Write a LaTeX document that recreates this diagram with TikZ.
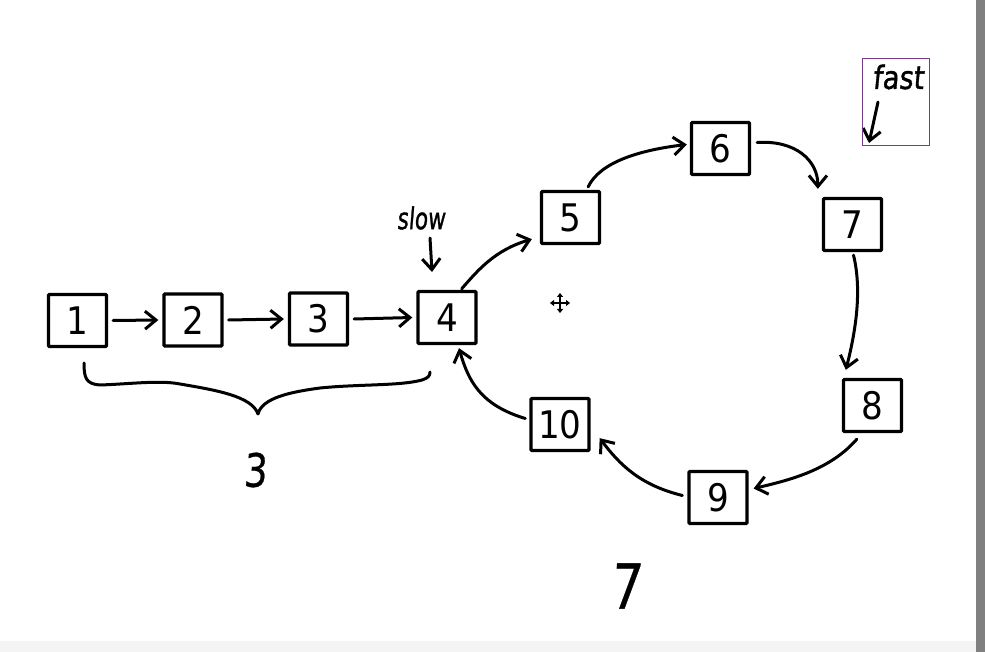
\documentclass[tikz,border=0pt]{standalone}
\usepackage{fontspec}
\usetikzlibrary{arrows.meta,calc}
\newfontfamily\numfont{DejaVu Sans Condensed}
\newfontfamily\handfont[FakeBold=1.2,FakeSlant=0.12]{DejaVu Sans}
\newfontfamily\handdigits[FakeBold=0.6,FakeSlant=0.08]{DejaVu Sans}
\definecolor{framepurple}{RGB}{122,58,138}
\definecolor{barsgray}{RGB}{128,128,128}
\definecolor{stripgray}{RGB}{244,244,244}
\begin{document}
\begin{tikzpicture}[x=1pt,y=-1pt,
  box/.style={draw,line width=3.3pt,rounded corners=1pt,minimum width=58pt,minimum height=52pt,inner sep=0pt,font=\numfont\fontsize{38}{40}\selectfont},
  hand/.style={line width=3pt,line cap=round,line join=round},
  harr/.style={hand,-{Straight Barb[length=11pt,width=18pt,line width=3pt]}},
  handtext/.style={inner sep=0pt,font=\handfont\fontsize{#1}{#1}\selectfont},
  handnum/.style={inner sep=0pt,font=\handdigits\fontsize{#1}{#1}\selectfont}
]
\useasboundingbox[fill=white] (0,0) rectangle (985,652);
\fill[stripgray] (0,641) rectangle (976,652);
\fill[barsgray] (976,0) rectangle (985,652);

% boxes
\node[box] (n1) at (77.5,320.5) {1};
\node[box] (n2) at (193,320) {2};
\node[box] (n3) at (318.5,319) {3};
\node[box] (n4) at (447,317.5) {4};
\node[box] (n5) at (570.5,217.5) {5};
\node[box] (n6) at (720.5,148.5) {6};
\node[box] (n7) at (852.5,224.5) {7};
\node[box] (n8) at (872.5,405.5) {8};
\node[box] (n9) at (718,497.5) {9};
\node[box] (n10) at (560,424.5) {10};

% straight arrows
\draw[harr] ([xshift=5pt]n1.east) -- ([xshift=-4pt]n2.west);
\draw[harr] ([xshift=5pt]n2.east) -- ([xshift=-4pt]n3.west);
\draw[harr] ([xshift=5pt]n3.east) -- ([xshift=-4pt]n4.west);

% ring arrows
\draw[harr] ($(n4.north east)+(-16,-1)$) .. controls (478,270) and (495,250) .. ($(n5.south west)+(-8,-6)$);
\draw[harr] ($(n5.north east)+(-13,-3)$) .. controls (600,162) and (640,150) .. ($(n6.west)+(-3,-4)$);
\draw[harr] ($(n6.east)+(6,-6)$) .. controls (795,140) and (818,160) .. ($(n7.north west)+(-4,-8)$);
\draw[harr] ($(n7.south)+(1,3)$) .. controls (862,290) and (856,330) .. ($(n8.north west)+(4,-8)$);
\draw[harr] ($(n8.south west)+(15,6)$) .. controls (830,470) and (790,480) .. ($(n9.east)+(5,-9)$);
\draw[harr] ($(n9.west)+(-5,-2)$) .. controls (640,485) and (620,465) .. ($(n10.south east)+(9,-14)$);
\draw[harr] ($(n10.west)+(-4,-6)$) .. controls (480,405) and (468,380) .. ($(n4.south)+(12,3)$);

% brace
\draw[hand] (84,363) .. controls (84,378) and (86,384) .. (100,385)
  .. controls (130,384) and (160,380) .. (180,384)
  .. controls (215,390) and (252,396) .. (258,414)
  .. controls (262,398) and (290,392) .. (320,388)
  .. controls (360,384) and (400,386) .. (422,380)
  .. controls (428,378) and (430,376) .. (430,372);

% labels
\node[handtext=30] (slowlbl) at (421,218) {\scalebox{0.72}[1]{slow}};
\coordinate (slowtip) at (432,272);
\draw[harr] (430,238) -- (slowtip);
\node[handtext=32] (fastlbl) at (898,77) {\scalebox{0.85}[1]{fast}};
\coordinate (fasttip) at (869,143);
\draw[harr] (878,102) -- (fasttip);
\draw[framepurple,line width=1pt] (862.5,58.5) rectangle (929.5,145.5);
\node[handnum=46] (lbl3) at (255,470) {\scalebox{0.8}[1]{3}};
\node[handnum=62] (lbl7) at (626,586) {\scalebox{0.8}[1]{7}};

% move cursor
\draw[line width=1.6pt,{Triangle[length=4pt,width=6pt]}-{Triangle[length=4pt,width=6pt]}] (550,303) -- (570,303);
\draw[line width=1.6pt,{Triangle[length=4pt,width=6pt]}-{Triangle[length=4pt,width=6pt]}] (560,293) -- (560,313);
\end{tikzpicture}
\end{document}
